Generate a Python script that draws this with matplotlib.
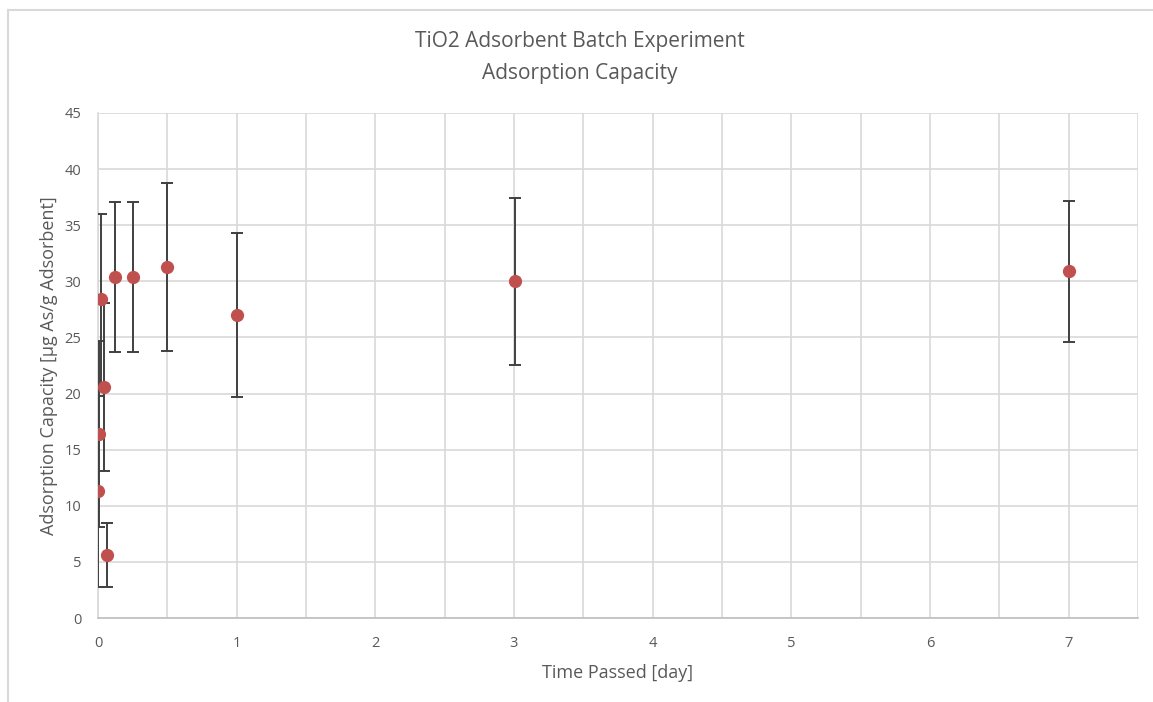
import matplotlib.pyplot as plt
from matplotlib.lines import Line2D
from matplotlib.ticker import MultipleLocator

# time passed [day] and adsorption capacity [ug As/g adsorbent]
time_day = [0.0035, 0.0104, 0.0208, 0.0417, 0.0625, 0.125, 0.25, 0.5, 1.0, 3.01, 7.0]
capacity = [11.3, 16.4, 28.4, 20.6, 5.6, 30.4, 30.4, 31.3, 27.0, 30.0, 30.9]
cap_err = [8.5, 8.3, 7.6, 7.5, 2.85, 6.7, 6.7, 7.5, 7.3, 7.45, 6.3]

txt = '#595959'
grid_c = '#d9d9d9'
plt.rcParams['font.family'] = ['Open Sans', 'DejaVu Sans']

fig = plt.figure(figsize=(11.53, 7.02), dpi=100)
# chart frame: only top and left edges show in the crop
fig.add_artist(Line2D([7.5 / 1153, 1.0], [1 - 9.5 / 702] * 2, transform=fig.transFigure,
                      color=grid_c, linewidth=1.5))
fig.add_artist(Line2D([7.5 / 1153] * 2, [0, 1 - 9.5 / 702], transform=fig.transFigure,
                      color=grid_c, linewidth=1.5))
ax = fig.add_axes([98 / 1153, 1 - 618 / 702, (1138 - 98) / 1153, (618 - 113) / 702])

ax.errorbar(time_day, capacity, yerr=cap_err, fmt='o', color='#C0504D',
            markersize=8.5, ecolor='#404040', elinewidth=1.4, capsize=4.5,
            capthick=1.4, zorder=3)

ax.set_xlim(0, 7.5)
ax.set_ylim(0, 45)
ax.xaxis.set_major_locator(MultipleLocator(1))
ax.xaxis.set_minor_locator(MultipleLocator(0.5))
ax.yaxis.set_major_locator(MultipleLocator(5))
ax.grid(True, which='both', color=grid_c, linewidth=1.2, zorder=0)
ax.set_axisbelow(True)
for s in ['top', 'right']:
    ax.spines[s].set_visible(False)
ax.spines['left'].set_color(grid_c)
ax.spines['left'].set_linewidth(1.2)
ax.spines['bottom'].set_color('#bfbfbf')
ax.spines['bottom'].set_linewidth(1.2)
ax.tick_params(which='both', length=0, labelsize=10.5, labelcolor=txt)
ax.tick_params(axis='y', pad=12)
ax.tick_params(axis='x', pad=13)

ax.set_xlabel('Time Passed [day]', fontsize=13, color=txt, labelpad=9)
ax.set_ylabel('Adsorption Capacity [µg As/g Adsorbent]', fontsize=13, color=txt, labelpad=5)
fig.text(0.503, 1 - 42 / 702, 'TiO2 Adsorbent Batch Experiment', ha='center', va='center',
         fontsize=15, color=txt)
fig.text(0.503, 1 - 74 / 702, 'Adsorption Capacity', ha='center', va='center',
         fontsize=15, color=txt)

fig.savefig('out.png', dpi=100)
